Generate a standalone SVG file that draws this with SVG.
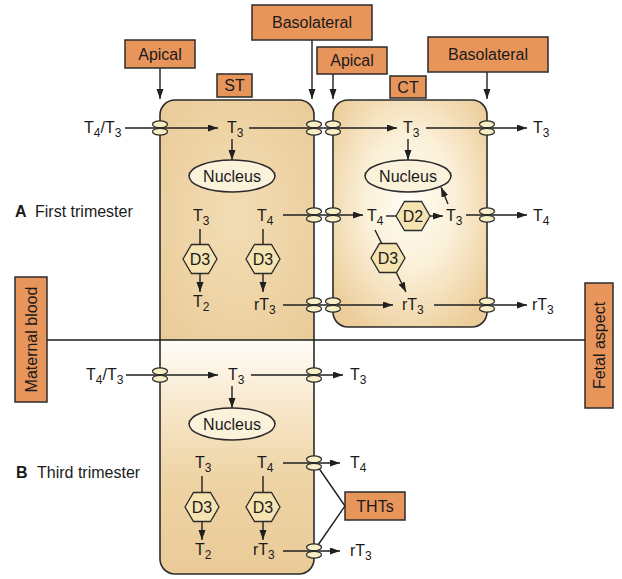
<svg xmlns="http://www.w3.org/2000/svg" xmlns:xlink="http://www.w3.org/1999/xlink" width="622" height="579" viewBox="0 0 622 579">
<style>
text{font-family:"Liberation Sans",Arial,sans-serif;fill:#1a1a1a}
.lbl{font-size:16px}
.t{font-size:16px}
.d{font-size:16px}
.sub{font-size:12px}
.box{fill:#e8955c;stroke:#2b2b2b;stroke-width:1.5}
.ln{fill:none;stroke:#1f1f1f;stroke-width:1.4}
.arr{fill:none;stroke:#1f1f1f;stroke-width:1.4;marker-end:url(#ah)}
.cell{fill:none;stroke:#2b2b2b;stroke-width:1.6}
.hex{fill:#f5e3b2;stroke:#2b2b2b;stroke-width:1.3}
.nuc{fill:#fbf2dc;stroke:#2b2b2b;stroke-width:1.5}
.tpe{fill:#f8efc6;stroke:#2b2b2b;stroke-width:1.2}
</style>
<defs>
<marker id="ah" markerUnits="userSpaceOnUse" markerWidth="11" markerHeight="8" refX="10" refY="3.5" orient="auto"><path d="M0,0 L10,3.5 L0,7 Z" fill="#1f1f1f"/></marker>
<g id="tp"><ellipse class="tpe" cx="0" cy="-3.7" rx="7.5" ry="3.4"/><ellipse class="tpe" cx="0" cy="3.7" rx="7.5" ry="3.4"/></g>
<polygon id="hx" class="hex" points="-17,0 -8.5,-14.5 8.5,-14.5 17,0 8.5,14.5 -8.5,14.5"/>
<radialGradient id="gct" cx="0.5" cy="0.45" r="0.65">
<stop offset="0" stop-color="#fffdf6"/><stop offset="0.45" stop-color="#fbf0d8"/><stop offset="1" stop-color="#eccc98"/>
</radialGradient>
<radialGradient id="gst" cx="0.5" cy="0.5" r="0.7">
<stop offset="0" stop-color="#f3ddb5"/><stop offset="1" stop-color="#eacb98"/>
</radialGradient>
<linearGradient id="gb" x1="0" y1="0" x2="0" y2="1">
<stop offset="0" stop-color="#fffdf8"/><stop offset="0.3" stop-color="#f7e6c8"/><stop offset="0.6" stop-color="#eed3a4"/><stop offset="1" stop-color="#eacb98"/>
</linearGradient>
</defs>

<!-- cell fills -->
<g id="st-cell">
<path d="M160,340 V115 A15,15 0 0 1 175,100 H299 A15,15 0 0 1 314,115 V340 Z" fill="url(#gst)"/>
<path d="M160,340 V559 A15,15 0 0 0 175,574 H299 A15,15 0 0 0 314,559 V340 Z" fill="url(#gb)"/>
<rect class="cell" x="160" y="100" width="154" height="474" rx="15"/>
</g>
<g id="ct-cell">
<rect x="333" y="100" width="154" height="227" rx="15" fill="url(#gct)" stroke="#2b2b2b" stroke-width="1.6"/>
</g>

<!-- connectors -->
<g id="connectors">
<line class="ln" x1="47" y1="340" x2="585" y2="340"/>
<line class="arr" x1="160" y1="68" x2="160" y2="99"/>
<line class="arr" x1="312" y1="40" x2="312" y2="99"/>
<line class="arr" x1="333" y1="74" x2="333" y2="99"/>
<line class="arr" x1="487" y1="72" x2="487" y2="99"/>
<!-- row 1 -->
<line class="arr" x1="125" y1="128" x2="218" y2="128"/>
<line class="arr" x1="249" y1="128" x2="397" y2="128"/>
<line class="arr" x1="426" y1="128" x2="527" y2="128"/>
<line class="arr" x1="232" y1="139" x2="232" y2="160"/>
<line class="arr" x1="408" y1="139" x2="408" y2="160"/>
<!-- row 2 -->
<line class="ln" x1="200" y1="229" x2="200" y2="244"/>
<line class="arr" x1="200" y1="274" x2="200" y2="292"/>
<line class="ln" x1="263" y1="229" x2="263" y2="244"/>
<line class="arr" x1="263" y1="274" x2="263" y2="292"/>
<line class="arr" x1="283" y1="215" x2="363" y2="215"/>
<line class="ln" x1="386" y1="216" x2="396" y2="216"/>
<line class="arr" x1="430" y1="216" x2="443" y2="216"/>
<line class="arr" x1="466" y1="215" x2="527" y2="215"/>
<line class="arr" x1="448" y1="204" x2="441" y2="187"/>
<line class="ln" x1="375" y1="230" x2="382" y2="244"/>
<line class="arr" x1="396" y1="272" x2="406" y2="292"/>
<!-- row 3 -->
<line class="arr" x1="283" y1="305" x2="393" y2="305"/>
<line class="arr" x1="434" y1="305" x2="527" y2="305"/>
<!-- third trimester -->
<line class="arr" x1="126" y1="375" x2="218" y2="375"/>
<line class="arr" x1="251" y1="375" x2="343" y2="375"/>
<line class="arr" x1="232" y1="386" x2="232" y2="408"/>
<line class="arr" x1="283" y1="463" x2="340" y2="463"/>
<line class="ln" x1="202" y1="476" x2="202" y2="492"/>
<line class="arr" x1="202" y1="522" x2="202" y2="540"/>
<line class="ln" x1="263" y1="476" x2="263" y2="492"/>
<line class="arr" x1="263" y1="522" x2="263" y2="540"/>
<line class="arr" x1="283" y1="551" x2="340" y2="551"/>
<line class="ln" x1="345" y1="506" x2="318" y2="467"/>
<line class="ln" x1="345" y1="506" x2="318" y2="545"/>
<!-- transporters -->
<use href="#tp" x="160" y="128"/>
<use href="#tp" x="314" y="128"/>
<use href="#tp" x="333" y="128"/>
<use href="#tp" x="487" y="128"/>
<use href="#tp" x="314" y="215"/>
<use href="#tp" x="333" y="215"/>
<use href="#tp" x="487" y="215"/>
<use href="#tp" x="314" y="305"/>
<use href="#tp" x="333" y="305"/>
<use href="#tp" x="487" y="305"/>
<use href="#tp" x="160" y="375"/>
<use href="#tp" x="314" y="375"/>
<use href="#tp" x="314" y="463"/>
<use href="#tp" x="314" y="551"/>
</g>

<!-- label boxes -->
<g id="apical-1"><rect class="box" x="125" y="40" width="70" height="28"/><text class="lbl" x="160" y="60" text-anchor="middle">Apical</text></g>
<g id="basolateral-1"><rect class="box" x="252" y="5" width="120" height="35"/><text class="lbl" x="312" y="28" text-anchor="middle">Basolateral</text></g>
<g id="st-label"><rect class="box" x="217" y="74" width="35" height="23"/><text class="lbl" x="234.5" y="91" text-anchor="middle">ST</text></g>
<g id="apical-2"><rect class="box" x="317" y="47" width="70" height="27"/><text class="lbl" x="352" y="66" text-anchor="middle">Apical</text></g>
<g id="ct-label"><rect class="box" x="390" y="76" width="36" height="22"/><text class="lbl" x="408" y="93" text-anchor="middle">CT</text></g>
<g id="basolateral-2"><rect class="box" x="428" y="37" width="120" height="35"/><text class="lbl" x="488" y="60" text-anchor="middle">Basolateral</text></g>
<g id="maternal-blood"><rect class="box" x="15" y="277" width="32" height="125"/><text class="lbl" transform="translate(37,339.5) rotate(-90)" text-anchor="middle">Maternal blood</text></g>
<g id="fetal-aspect"><rect class="box" x="585" y="283" width="28" height="125"/><text class="lbl" transform="translate(605,345.5) rotate(-90)" text-anchor="middle">Fetal aspect</text></g>
<g id="thts"><rect class="box" x="345" y="492" width="60" height="28"/><text class="lbl" x="375" y="512" text-anchor="middle">THTs</text></g>

<!-- section labels -->
<g id="label-a"><text class="lbl" x="15" y="217"><tspan font-weight="bold">A</tspan><tspan x="35">First trimester</tspan></text></g>
<g id="label-b"><text class="lbl" x="16" y="478"><tspan font-weight="bold">B</tspan><tspan x="37">Third trimester</tspan></text></g>

<!-- nuclei -->
<g id="nucleus-st"><ellipse class="nuc" cx="232" cy="176" rx="43" ry="16"/><text class="lbl" x="232" y="182" text-anchor="middle">Nucleus</text></g>
<g id="nucleus-ct"><ellipse class="nuc" cx="408" cy="176" rx="43" ry="16"/><text class="lbl" x="408" y="182" text-anchor="middle">Nucleus</text></g>
<g id="nucleus-b"><ellipse class="nuc" cx="232" cy="424" rx="43" ry="16"/><text class="lbl" x="232" y="430" text-anchor="middle">Nucleus</text></g>

<!-- enzymes -->
<g id="d3-1"><use href="#hx" x="200" y="259"/><text class="d" x="200" y="265" text-anchor="middle">D3</text></g>
<g id="d3-2"><use href="#hx" x="263" y="259"/><text class="d" x="263" y="265" text-anchor="middle">D3</text></g>
<g id="d2"><use href="#hx" x="413" y="216"/><text class="d" x="413" y="222" text-anchor="middle">D2</text></g>
<g id="d3-3"><use href="#hx" x="388" y="258"/><text class="d" x="388" y="264" text-anchor="middle">D3</text></g>
<g id="d3-4"><use href="#hx" x="202" y="507"/><text class="d" x="202" y="513" text-anchor="middle">D3</text></g>
<g id="d3-5"><use href="#hx" x="263" y="507"/><text class="d" x="263" y="513" text-anchor="middle">D3</text></g>

<!-- hormone labels -->
<g id="hormones">
<text class="t" x="84" y="133">T<tspan class="sub" dy="4">4</tspan><tspan dy="-4">/T</tspan><tspan class="sub" dy="4">3</tspan></text>
<text class="t" x="227" y="133">T<tspan class="sub" dy="4">3</tspan></text>
<text class="t" x="403" y="133">T<tspan class="sub" dy="4">3</tspan></text>
<text class="t" x="533" y="133">T<tspan class="sub" dy="4">3</tspan></text>
<text class="t" x="193" y="221">T<tspan class="sub" dy="4">3</tspan></text>
<text class="t" x="257" y="221">T<tspan class="sub" dy="4">4</tspan></text>
<text class="t" x="367" y="221">T<tspan class="sub" dy="4">4</tspan></text>
<text class="t" x="446" y="221">T<tspan class="sub" dy="4">3</tspan></text>
<text class="t" x="533" y="221">T<tspan class="sub" dy="4">4</tspan></text>
<text class="t" x="193" y="307">T<tspan class="sub" dy="4">2</tspan></text>
<text class="t" x="254" y="310">rT<tspan class="sub" dy="4">3</tspan></text>
<text class="t" x="402" y="310">rT<tspan class="sub" dy="4">3</tspan></text>
<text class="t" x="532" y="310">rT<tspan class="sub" dy="4">3</tspan></text>
<text class="t" x="86" y="380">T<tspan class="sub" dy="4">4</tspan><tspan dy="-4">/T</tspan><tspan class="sub" dy="4">3</tspan></text>
<text class="t" x="228" y="380">T<tspan class="sub" dy="4">3</tspan></text>
<text class="t" x="350" y="380">T<tspan class="sub" dy="4">3</tspan></text>
<text class="t" x="195" y="468">T<tspan class="sub" dy="4">3</tspan></text>
<text class="t" x="257" y="468">T<tspan class="sub" dy="4">4</tspan></text>
<text class="t" x="350" y="468">T<tspan class="sub" dy="4">4</tspan></text>
<text class="t" x="195" y="555">T<tspan class="sub" dy="4">2</tspan></text>
<text class="t" x="253" y="555">rT<tspan class="sub" dy="4">3</tspan></text>
<text class="t" x="350" y="556">rT<tspan class="sub" dy="4">3</tspan></text>
</g>
</svg>
